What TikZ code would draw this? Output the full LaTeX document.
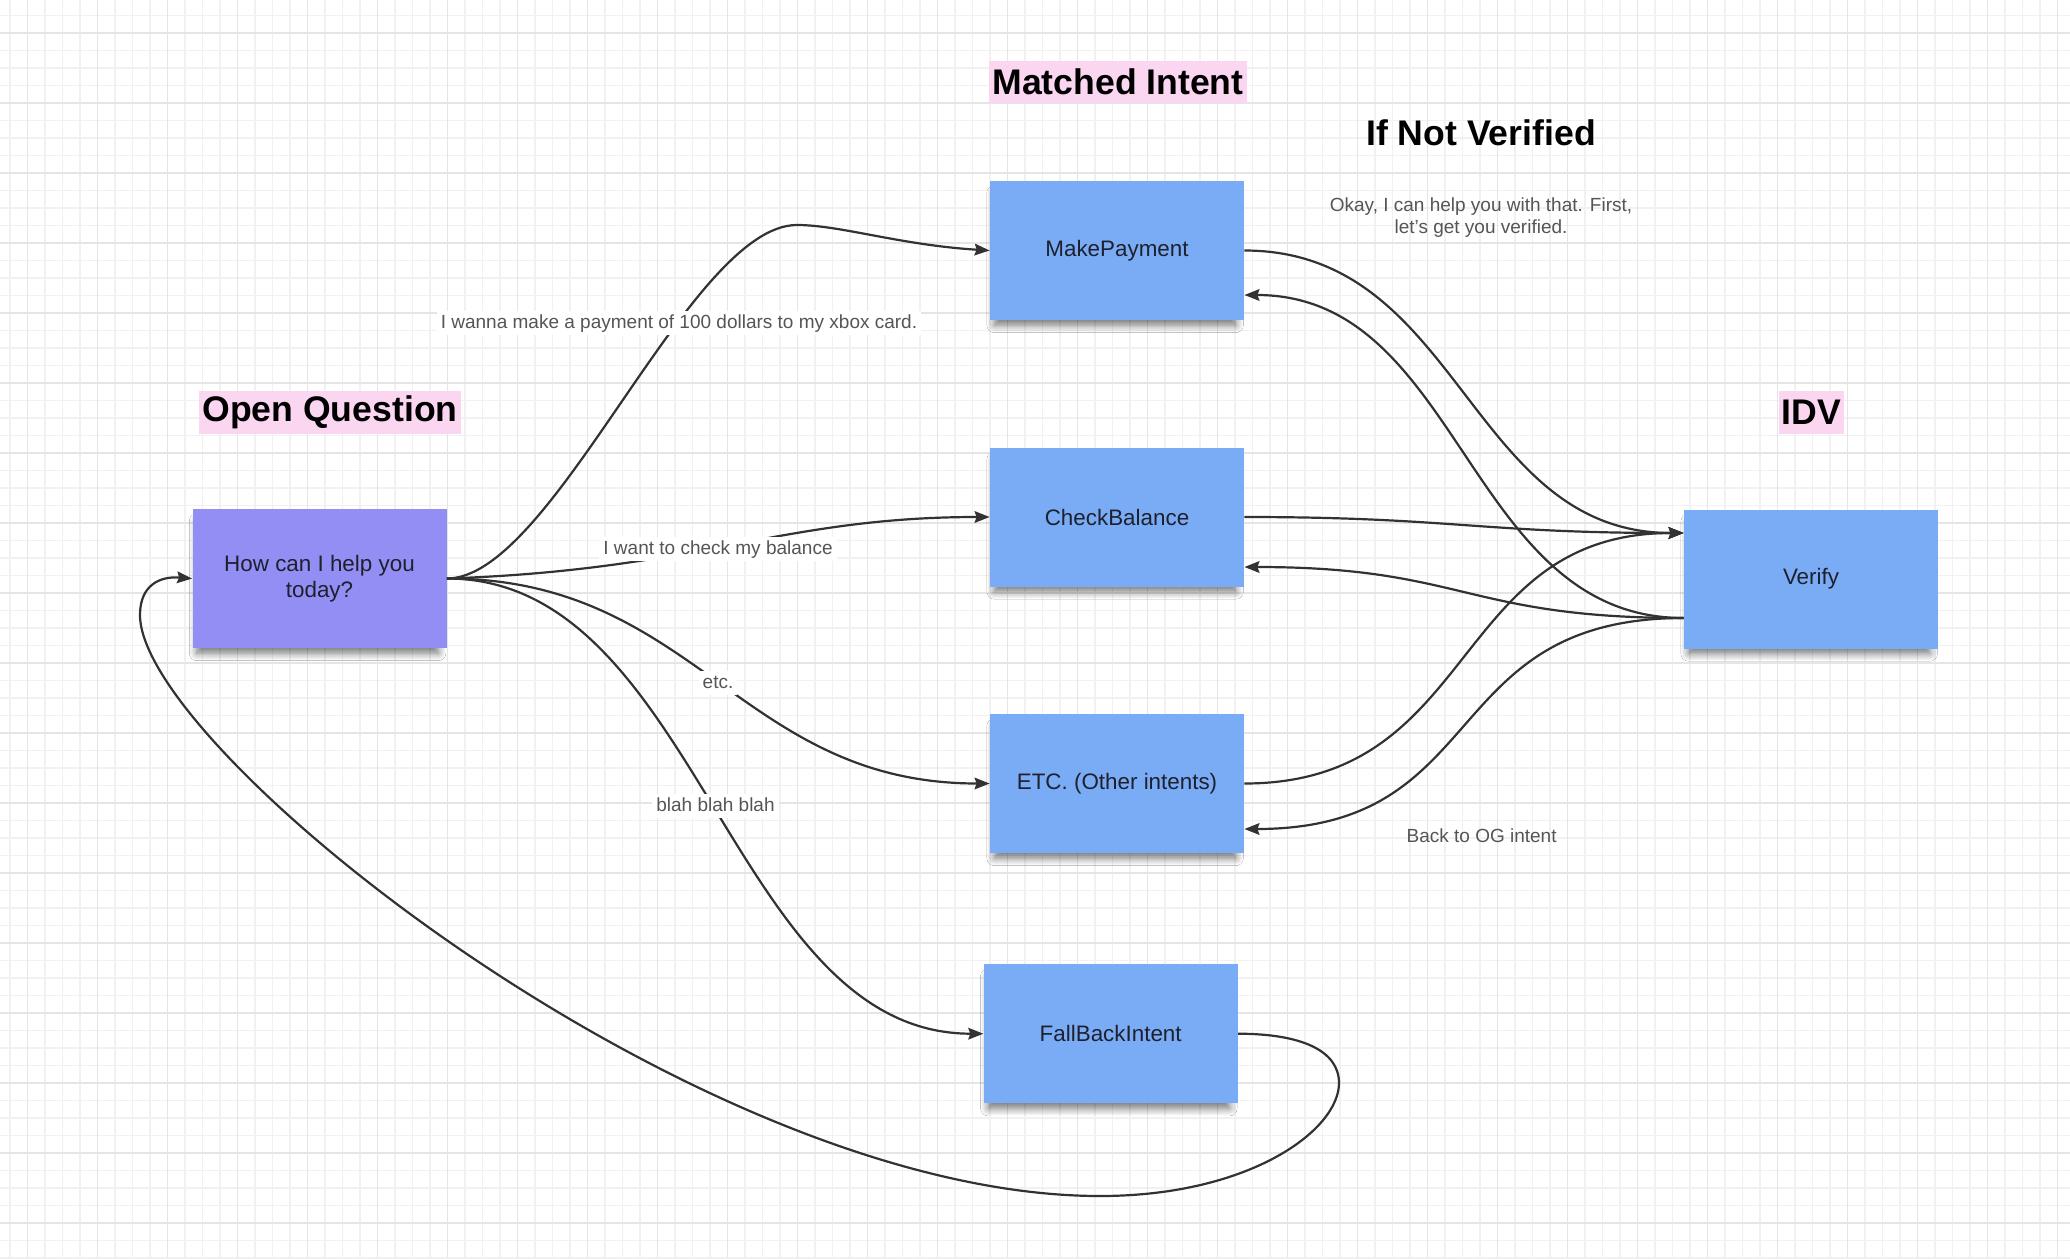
\documentclass[tikz,border=0pt]{standalone}
\usepackage{fontspec}
\setmainfont{Liberation Sans}
\usetikzlibrary{arrows.meta,shadows.blur,calc}
\definecolor{pinkbg}{RGB}{250,214,240}
\definecolor{purplebox}{RGB}{146,142,244}
\definecolor{bluebox}{RGB}{122,172,246}
\definecolor{boxtext}{RGB}{30,32,45}
\definecolor{labeltext}{RGB}{85,85,85}
\definecolor{edgecol}{RGB}{50,50,50}
\definecolor{gridminor}{RGB}{241,241,241}
\definecolor{gridmajor}{RGB}{229,229,229}
\tikzset{
  card/.style={minimum width=127pt, minimum height=69.5pt, inner sep=0pt, text=boxtext,
    font=\fontsize{11.2}{13}\selectfont, align=center,
    blur shadow={shadow xshift=-1pt, shadow yshift=-4.5pt, shadow blur radius=4pt, shadow scale=0.95, shadow opacity=55, shadow blur steps=8}},
  bluecard/.style={card, fill=bluebox},
  purplecard/.style={card, fill=purplebox},
  titletext/.style={font=\fontsize{17.8}{20}\selectfont\bfseries, text=black, inner xsep=1.5pt, inner ysep=0pt, minimum height=21.25pt},
  pinktitle/.style={titletext, fill=pinkbg},
  plainlabel/.style={font=\fontsize{9.5}{11}\selectfont, text=labeltext, inner xsep=2pt, inner ysep=1.5pt},
  elabel/.style={plainlabel, text height=6.8pt, text depth=1.8pt},
  onedge/.style={elabel, fill=white},
  conn/.style={draw=edgecol, line width=1.1pt, -{Stealth[length=7.5pt,width=5.8pt,inset=1pt]}},
  gminor/.style={draw=gridminor, line width=0.8pt},
  gmajor/.style={draw=gridmajor, line width=0.8pt},
}
\begin{document}
\begin{tikzpicture}[x=0.5pt,y=-0.5pt]
\fill[white] (0,0) rectangle (2070,1258);
\useasboundingbox (0,0) rectangle (2070,1258);
% grid
\foreach \i in {0,...,117} {\pgfmathsetmacro\xx{10+17.5*\i}\draw[gminor] (\xx,0) -- (\xx,1258);}
\foreach \i in {0,...,71} {\pgfmathsetmacro\yy{15.5+17.5*\i}\draw[gminor] (0,\yy) -- (2070,\yy);}
\foreach \i in {0,...,29} {\pgfmathsetmacro\xx{27.5+70*\i}\draw[gmajor] (\xx,0) -- (\xx,1258);}
\foreach \i in {0,...,17} {\pgfmathsetmacro\yy{33+70*\i}\draw[gmajor] (0,\yy) -- (2070,\yy);}

% titles
\node[pinktitle] (tOQ) at (330,412.5) {Open Question};
\node[pinktitle] (tMI) at (1118,82) {Matched Intent};
\node[titletext] (tNV) at (1481,133) {If Not Verified};
\node[pinktitle] (tIDV) at (1811.5,412.5) {IDV};

% cards
\node[purplecard] (st) at (319.5,578.5) {How can I help you\\today?};
\node[bluecard] (mp) at (1117,250.5) {MakePayment};
\node[bluecard] (cb) at (1117,517) {CheckBalance};
\node[bluecard] (et) at (1117,783.5) {ETC. (Other intents)};
\node[bluecard] (fb) at (1110.7,1033.7) {FallBackIntent};
\node[bluecard] (vf) at (1811,579) {Verify};

% anchor points
\coordinate (vin) at ([yshift=23pt]vf.west);
\coordinate (vout) at ([yshift=-19.5pt]vf.west);
\coordinate (mpin) at ([yshift=-22.25pt]mp.east);
\coordinate (cbin) at ([yshift=-25pt]cb.east);
\coordinate (etin) at ([yshift=-22.75pt]et.east);
\coordinate (mpk) at (797,225);
\coordinate (lp1) at (1339,1083);
\coordinate (lp2) at (1100,1196);
\coordinate (lp3) at (140,615);

% edges from open question
\draw[conn] (st.east) .. controls (554,578.5) and (689,225) .. (mpk) .. controls (840,225) and (900,245) .. (mp.west);
\draw[conn] (st.east) .. controls (700,570) and (780,517) .. (cb.west);
\draw[conn] (st.east) .. controls (696,578.5) and (740,783.5) .. (et.west);
\draw[conn] (st.east) .. controls (699,578.5) and (730,1033.7) .. (fb.west);
% fallback loop
\draw[conn] (fb.east) .. controls (1300,1033.7) and (1339,1050) .. (lp1)
  .. controls (1339,1130) and (1250,1196) .. (lp2)
  .. controls (700,1196) and (140,750) .. (lp3)
  .. controls (140,585) and (160,576) .. (st.west);
% verify edges
\draw[conn] (mp.east) .. controls (1461,250.5) and (1468,533) .. (vin);
\draw[conn] (vout) .. controls (1467,618) and (1462,295) .. (mpin);
\draw[conn] (cb.east) .. controls (1450,517) and (1480,533) .. (vin);
\draw[conn] (vout) .. controls (1465,618) and (1464,567) .. (cbin);
\draw[conn] (et.east) .. controls (1480,783.5) and (1449,533) .. (vin);
\draw[conn] (vout) .. controls (1436,618) and (1493,829) .. (etin);

% labels
\node[onedge] (l1) at (679,323) {I wanna make a payment of 100 dollars to my xbox card.};
\node[onedge] (l2) at (718,549) {I want to check my balance};
\node[onedge] (l3) at (718,683) {etc.};
\node[onedge] (l4) at (715.5,806) {blah blah blah};
\node[elabel] (l5) at (1481.6,837) {Back to OG intent};
\node[plainlabel, align=center] (l6) at (1481,218) {Okay, I can help you with that. First,\\let's get you verified.};
\end{tikzpicture}
\end{document}
